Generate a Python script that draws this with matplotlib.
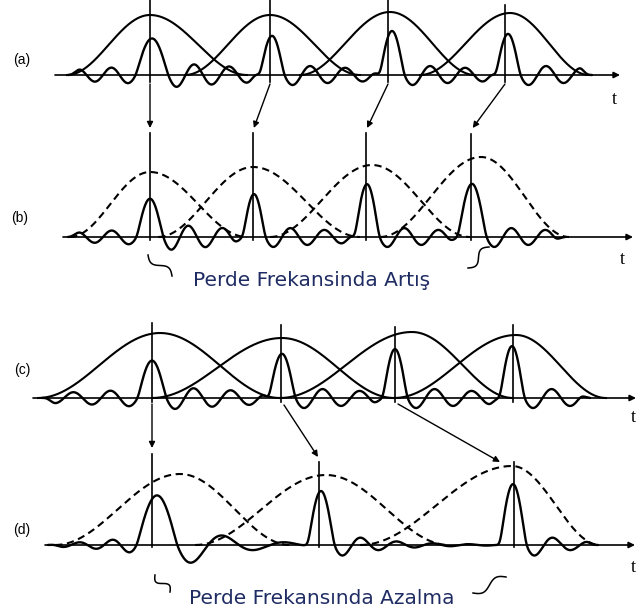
import numpy as np
import matplotlib.pyplot as plt

# ---- layout data (diagram drawn in pixel-like units, y grows downward) ----
panel_names = ["(a)", "(b)", "(c)", "(d)"]
label_pos = [(22, 60), (20, 218), (22, 370), (22, 530)]
baselines = [75, 237, 398, 545]
axis_start = [55, 63, 33, 45]
axis_end = [620, 633, 636, 635]
t_pos = [(614, 100), (622, 260), (633, 418), (633, 567)]

# pitch marks
marks_a = [150, 270, 388, 505]
marks_b = [150, 253, 366, 471]
marks_c = [152, 281, 395, 513]
marks_d = [152, 319, 514]
mark_top_a = [0, 0, 0, 5]
mark_top_b = [133, 133, 133, 134]
mark_top_c = [323, 325, 327, 325]
mark_top_d = [454, 462, 462]
mark_bottom = [82, 240, 402, 547]

# analysis / synthesis windows
win_l_a = [67, 185, 300, 420]
win_p_a = [150, 270, 390, 510]
win_r_a = [247, 360, 475, 589]
win_amp_a = [60, 60, 63, 62]
win_l_b = [70, 158, 270, 380]
win_p_b = [150, 253, 372, 481]
win_r_b = [247, 360, 470, 569]
win_amp_b = [65, 70, 72, 80]
win_l_c = [38, 152, 280, 394]
win_p_c = [160, 282, 412, 516]
win_r_c = [280, 394, 513, 606]
win_amp_c = [65, 60, 66, 63]
win_l_d = [55, 195, 360]
win_p_d = [180, 326, 512]
win_r_d = [290, 449, 600]
win_amp_d = [71, 70, 79]

# pitch pulses of the waveform
pulse_c_a = [152, 272, 392, 508]
pulse_amp_a = [37, 40, 45, 42]
pulse_w_a = [16, 12, 12, 12]
ring_l_a = [9, 0, 0, 0]
ring_r_a = [13, 11, 11, 11]
per_r_a = [35, 35, 35, 35]
pulse_c_b = [150, 254, 367, 472]
pulse_amp_b = [39, 44, 54, 54]
pulse_w_b = [13, 11, 12, 14]
ring_l_b = [8, 0, 0, 0]
ring_r_b = [14, 11, 11, 11]
per_r_b = [34, 34, 34, 34]
pulse_c_c = [152, 282, 395, 512]
pulse_amp_c = [38, 45, 50, 53]
pulse_w_c = [14, 13, 12, 12]
ring_l_c = [9, 0, 0, 0]
ring_r_c = [12, 11, 11, 11]
per_r_c = [37, 37, 37, 37]
pulse_c_d = [157, 321, 513]
pulse_amp_d = [50, 55, 62]
pulse_w_d = [20, 13, 13]
ring_l_d = [9, 0, 0]
ring_r_d = [24, 13, 13]
per_r_d = [62, 36, 36]
per_l = [33, 34, 37, 33]
ring_tau = [160, 150, 160, 50]
signal_range = [(68, 592), (68, 565), (42, 590), (48, 598)]

# arrows between rows
arrow_ab_y = (84, 128)
arrow_cd_start = [(152, 404), (284, 405), (398, 404)]
arrow_cd_end = [(152, 448), (318, 457), (500, 462)]

# small brace squiggles and captions
squiggles = [((148, 255), (172, 276)), ((489, 247), (468, 268)),
             ((155, 575), (170, 592)), ((506, 577), (473, 593))]
captions = ["Perde Frekansinda Artış", "Perde Frekansında Azalma"]
caption_pos = [(312, 281), (322, 598)]
caption_color = "#1f2c63"


def half_hann(x, l, p, r, amp):
    y = np.zeros_like(x)
    m = (x >= l) & (x <= p)
    y[m] = 0.5 * (1 - np.cos(np.pi * (x[m] - l) / (p - l)))
    m = (x > p) & (x <= r)
    y[m] = 0.5 * (1 + np.cos(np.pi * (x[m] - p) / (r - p)))
    return amp * y


def pulse(x, c, amp, w, rl, rr, pl, pr, tau, end):
    u = x - c
    out = np.zeros_like(x)
    main = np.abs(u) < w
    out[main] = amp * np.cos(np.pi * u[main] / (2 * w))
    v = np.abs(u) - w
    right = u >= w
    fade = np.clip((end - x[right]) / 10.0, 0, 1)
    out[right] = -rr * np.sin(2 * np.pi * v[right] / pr) * np.exp(-v[right] / tau) * fade
    left = u <= -w
    out[left] = -rl * np.sin(2 * np.pi * v[left] / pl) * np.exp(-v[left] / tau)
    return out


def smooth(y, dx, sigma=1.6):
    n = int(4 * sigma / dx)
    k = np.exp(-0.5 * (np.arange(-n, n + 1) * dx / sigma) ** 2)
    k /= k.sum()
    return np.convolve(np.pad(y, n, mode="edge"), k, mode="valid")


fig = plt.figure(figsize=(6.36, 6.16), dpi=100)
ax = fig.add_axes([0, 0, 1, 1])
ax.set_xlim(0, 636)
ax.set_ylim(616, 0)
ax.axis("off")

lw_sig = 1.7
lw_thin = 1.2
dash = (0, (3.5, 2.2))

marks = [marks_a, marks_b, marks_c, marks_d]
mark_tops = [mark_top_a, mark_top_b, mark_top_c, mark_top_d]
wins = [(win_l_a, win_p_a, win_r_a, win_amp_a), (win_l_b, win_p_b, win_r_b, win_amp_b),
        (win_l_c, win_p_c, win_r_c, win_amp_c), (win_l_d, win_p_d, win_r_d, win_amp_d)]
pulses = [(pulse_c_a, pulse_amp_a, pulse_w_a, ring_l_a, ring_r_a, per_r_a),
          (pulse_c_b, pulse_amp_b, pulse_w_b, ring_l_b, ring_r_b, per_r_b),
          (pulse_c_c, pulse_amp_c, pulse_w_c, ring_l_c, ring_r_c, per_r_c),
          (pulse_c_d, pulse_amp_d, pulse_w_d, ring_l_d, ring_r_d, per_r_d)]
dashed_windows = [False, True, False, True]

for i in range(4):
    base = baselines[i]
    # time axis with arrow
    ax.annotate("", xy=(axis_end[i], base), xytext=(axis_start[i], base),
                arrowprops=dict(arrowstyle="-|>", lw=lw_thin, color="k",
                                mutation_scale=9, shrinkA=0, shrinkB=0))
    ax.text(t_pos[i][0], t_pos[i][1], "t", fontsize=13, family="Liberation Serif",
            ha="center", va="center")
    ax.text(label_pos[i][0], label_pos[i][1], panel_names[i], fontsize=10,
            family="Liberation Sans", ha="center", va="center")

    # windows
    x = np.linspace(0, 636, 3000)
    for l, p, r, amp in zip(*wins[i]):
        m = (x >= l) & (x <= r)
        y = base - half_hann(x, l, p, r, amp)
        ax.plot(x[m], y[m], color="k", lw=lw_sig - 0.2,
                ls=dash if dashed_windows[i] else "-")

    # waveform: each pulse rings until the next one starts
    x0, x1 = signal_range[i]
    xs = np.linspace(x0, x1, 3000)
    sig = np.zeros_like(xs)
    cs, amps, ws, rls, rrs, prs = pulses[i]
    for k in range(len(cs)):
        end = cs[k + 1] - ws[k + 1] if k + 1 < len(cs) else x1
        sig += pulse(xs, cs[k], amps[k], ws[k], rls[k], rrs[k], per_l[i], prs[k],
                     ring_tau[i], end)
    taper = np.clip(np.minimum(xs - x0, x1 - xs) / 12.0, 0, 1)
    sig = smooth(sig * taper, xs[1] - xs[0])
    ax.plot(xs, base - sig, color="k", lw=lw_sig, solid_capstyle="round")

    # pitch marks
    for mx, top in zip(marks[i], mark_tops[i]):
        ax.plot([mx, mx], [top, mark_bottom[i]], color="k", lw=lw_thin)

# arrows (a) -> (b)
for xa, xb in zip(marks_a, marks_b):
    ax.annotate("", xy=(xb + (xa - xb) * 0.05, arrow_ab_y[1]), xytext=(xa, arrow_ab_y[0]),
                arrowprops=dict(arrowstyle="-|>", lw=1.0, color="k",
                                mutation_scale=9, shrinkA=0, shrinkB=0))

# arrows (c) -> (d)
for s, e in zip(arrow_cd_start, arrow_cd_end):
    ax.annotate("", xy=e, xytext=s,
                arrowprops=dict(arrowstyle="-|>", lw=1.0, color="k",
                                mutation_scale=9, shrinkA=0, shrinkB=0))

# squiggles
tt = np.linspace(0, 1, 60)
for (sx, sy), (ex, ey) in squiggles:
    px = sx + (ex - sx) * tt
    py = sy + (ey - sy) * tt
    dx, dy = ex - sx, ey - sy
    ln = np.hypot(dx, dy)
    nx, ny = -dy / ln, dx / ln
    off = 4.0 * np.sin(2 * np.pi * tt)
    ax.plot(px + nx * off, py + ny * off, color="k", lw=1.1)

for txt, (cx, cy) in zip(captions, caption_pos):
    ax.text(cx, cy, txt, fontsize=14.5, color=caption_color, family="DejaVu Sans",
            ha="center", va="center")

fig.savefig("out.png", dpi=100)
